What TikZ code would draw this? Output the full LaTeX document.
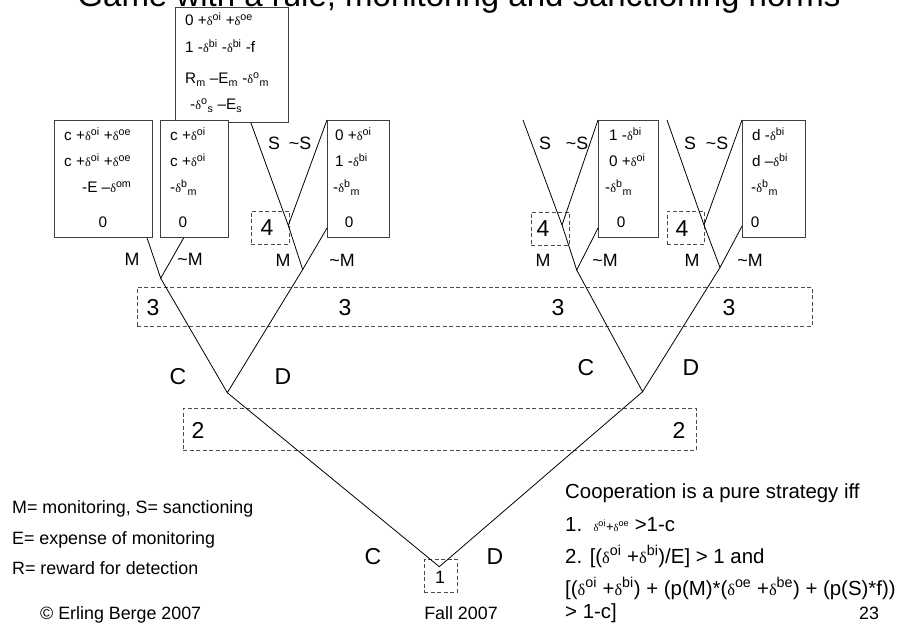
\documentclass[tikz,border=0pt]{standalone}
\usepackage{fontspec}
\setmainfont{Liberation Sans}
\newfontfamily\dfont[Scale=0.8]{Liberation Serif}
\usetikzlibrary{calc}
\newcommand\dd{{\dfont δ}}
\newcommand\up[1]{\textsuperscript{#1}}
\newcommand\dn[1]{\textsubscript{#1}}
\begin{document}
\begin{tikzpicture}[x=1pt,y=-1pt,
  pay/.style={draw=black!75, line width=1.1pt, fill=white, inner sep=0,
              anchor=north west},
  branch/.style={line width=0.8pt, black},
  grp/.style={draw=black!70, line width=0.9pt, dash pattern=on 4pt off 2.5pt,
              inner sep=0, anchor=north west},
  tx/.style={font=\fontsize{15.3}{18}\selectfont, inner sep=0, anchor=base west},
  tz/.style={font=\fontsize{15.3}{18}\selectfont, inner sep=0, anchor=base},
  lbl/.style={font=\fontsize{17.85}{20}\selectfont, inner sep=0},
  big/.style={font=\fontsize{23}{26}\selectfont, inner sep=0},
  rt/.style={font=\fontsize{20.4}{24}\selectfont, inner sep=0, anchor=base west},
  lg/.style={font=\fontsize{17.85}{20}\selectfont, inner sep=0, anchor=base west}]
\useasboundingbox (0,0) rectangle (918,628);

% title, running off the top edge
\node[font=\fontsize{33}{36}\selectfont, inner sep=0, anchor=base] (title) at (459,6.5)
  {Game with a rule, monitoring and sanctioning norms};

% payoff boxes
\node[pay, minimum width=113pt, minimum height=115pt] (pT) at (175,7) {};
\node[pay, minimum width=98pt, minimum height=117pt] (pA) at (54,120) {};
\node[pay, minimum width=68pt, minimum height=117pt] (pB) at (160,120) {};
\node[pay, minimum width=62pt, minimum height=117pt] (pC) at (327,120) {};
\node[pay, minimum width=60pt, minimum height=117pt] (pD) at (598,120) {};
\node[pay, minimum width=63pt, minimum height=117pt] (pE) at (742,120) {};

% payoffs
\node[tx] (t1) at (185,26) {0 +\dd\up{oi} +\dd\up{oe}};
\node[tx] (t2) at (185,53) {1 -\dd\up{bi} -\dd\up{bi} -f};
\node[tx] (t3) at (185,84) {R\dn{m} –E\dn{m} -\dd\up{o}\dn{m}};
\node[tx] (t4) at (190,110) {-\dd\up{o}\dn{s} –E\dn{s}};

\node[tx] (a1) at (64,141) {c +\dd\up{oi} +\dd\up{oe}};
\node[tx] (a2) at (64,167) {c +\dd\up{oi} +\dd\up{oe}};
\node[tx] (a3) at (82,193) {-E –\dd\up{om}};
\node[tz] (a4) at (103,228) {0};

\node[tx] (b1) at (170,141) {c +\dd\up{oi}};
\node[tx] (b2) at (170,167) {c +\dd\up{oi}};
\node[tx] (b3) at (170,193) {-\dd\up{b}\dn{m}};
\node[tz] (b4) at (183,228) {0};

\node[tx] (c1) at (335,141) {0 +\dd\up{oi}};
\node[tx] (c2) at (335,167) {1 -\dd\up{bi}};
\node[tx] (c3) at (333,193) {-\dd\up{b}\dn{m}};
\node[tz] (c4) at (349,228) {0};

\node[tx] (d1) at (609,141) {1 -\dd\up{bi}};
\node[tx] (d2) at (609,167) {0 +\dd\up{oi}};
\node[tx] (d3) at (605,193) {-\dd\up{b}\dn{m}};
\node[tz] (d4) at (621,228) {0};

\node[tx] (e1) at (752,141) {d -\dd\up{bi}};
\node[tx] (e2) at (752,167) {d –\dd\up{bi}};
\node[tx] (e3) at (751,193) {-\dd\up{b}\dn{m}};
\node[tz] (e4) at (755,228) {0};

% information sets
\node[grp, minimum width=675pt, minimum height=39pt] (g3) at (137,287) {};
\node[grp, minimum width=513pt, minimum height=42pt] (g2) at (183,408) {};
\node[grp, minimum width=38pt, minimum height=33pt] (g4a) at (251,211) {};
\node[grp, minimum width=38pt, minimum height=33pt] (g4b) at (531,212) {};
\node[grp, minimum width=37pt, minimum height=33pt] (g4c) at (667,211) {};
\node[grp, minimum width=33pt, minimum height=33pt] (g1) at (424,559) {};

% decision points
\coordinate (n1) at (439.3,566.7);
\coordinate (nL) at (227.3,392.7);
\coordinate (nR) at (642.6,391.7);
\coordinate (m1) at (160.7,278.3);
\coordinate (m2) at (302.7,269.5);
\coordinate (m3) at (576.7,270);
\coordinate (m4) at (720,267.5);
\coordinate (s2) at (288.3,225.5);
\coordinate (s3) at (562,225);
\coordinate (s4) at (704,225);
\coordinate (f3) at (523,120);
\coordinate (f4) at (667,120);

% branches
\draw[branch] (nL) -- (n1) -- (nR);
\draw[branch] (m1) -- (nL) -- (m2);
\draw[branch] (m3) -- (nR) -- (m4);
\draw[branch] ($(pA.south east)+(-6,0)$) -- (m1) -- ($(pB.south)+(-11,0)$);
\draw[branch] ($(pT.south west)+(76,0)$) -- (s2) -- (m2) -- ($(pC.south west)+(0,-10)$);
\draw[branch] (s2) -- (pC.north west);
\draw[branch] (f3) -- (s3) -- (m3) -- ($(pD.south west)+(0,-10)$);
\draw[branch] (s3) -- (pD.north west);
\draw[branch] (f4) -- (s4) -- (m4) -- ($(pE.south west)+(0,-12)$);
\draw[branch] (s4) -- (pE.north west);

% move labels
\node[lbl] (lM1) at (132,259) {M};
\node[lbl] (lN1) at (190,259) {\char`~M};
\node[lbl] (lS2) at (274,143) {S};
\node[lbl] (lT2) at (300,143) {\char`~S};
\node[lbl] (lM2) at (283,260) {M};
\node[lbl] (lN2) at (342,260) {\char`~M};
\node[lbl] (lS3) at (545,143) {S};
\node[lbl] (lT3) at (577,143) {\char`~S};
\node[lbl] (lM3) at (543,260) {M};
\node[lbl] (lN3) at (605,260) {\char`~M};
\node[lbl] (lS4) at (690,143) {S};
\node[lbl] (lT4) at (717,143) {\char`~S};
\node[lbl] (lM4) at (692,260) {M};
\node[lbl] (lN4) at (750,260) {\char`~M};

% player numbers
\node[big] (k4a) at (267,228) {4};
\node[big] (k4b) at (543,229) {4};
\node[big] (k4c) at (682,229) {4};
\node[big] (k3a) at (153,308) {3};
\node[big] (k3b) at (345,308) {3};
\node[big] (k3c) at (558,308) {3};
\node[big] (k3d) at (729,308) {3};
\node[big] (k2a) at (198,430) {2};
\node[big] (k2b) at (679,430) {2};
\node[lbl] (k1) at (440,577) {1};

% C / D labels
\node[big] (cL) at (178,377) {C};
\node[big] (dL) at (283,377) {D};
\node[big] (cR) at (586,368) {C};
\node[big] (dR) at (691,368) {D};
\node[big] (c0) at (373,557) {C};
\node[big] (d0) at (495,557) {D};

% legend
\node[lg] (leg1) at (12,513) {M= monitoring, S= sanctioning};
\node[lg] (leg2) at (12,544) {E= expense of monitoring};
\node[lg] (leg3) at (12,574) {R= reward for detection};

% conditions
\node[rt] (r1) at (565,498) {Cooperation is a pure strategy iff};
\node[rt] (r2) at (565,531) {1.\ \ {\fontsize{13}{15}\selectfont\dd\up{oi}+\dd\up{oe}} >1-c};
\node[rt] (r3) at (565,563) {2. [(\dd\up{oi} +\dd\up{bi})/E] > 1 and};
\node[rt] (r4) at (565,595) {[(\dd\up{oi} +\dd\up{bi}) + (p(M)*(\dd\up{oe} +\dd\up{be}) + (p(S)*f))};
\node[rt] (r5) at (565,618) {> 1-c]};

% footer
\node[lg] (fo1) at (40,619) {© Erling Berge 2007};
\node[lg, anchor=base] (fo2) at (461,619) {Fall 2007};
\node[lg, anchor=base] (fo3) at (869,619) {23};
\end{tikzpicture}
\end{document}
